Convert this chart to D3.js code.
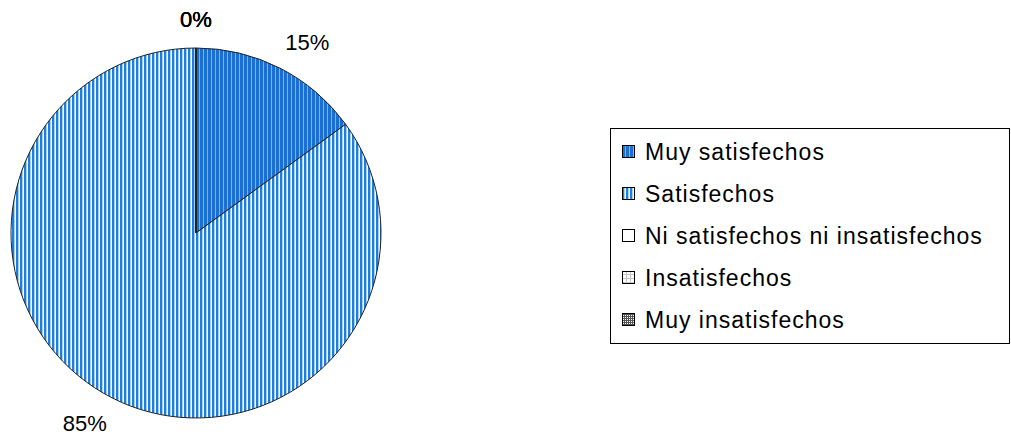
<!DOCTYPE html>
<html>
<head>
<meta charset="utf-8">
<script src="https://cdn.jsdelivr.net/npm/d3@7"></script>
<style>
  body { margin: 0; background: #fff; }
  text { font-family: "Liberation Sans", Arial, sans-serif; }
</style>
</head>
<body>
<div id="chart"></div>
<script>
// Data
const categories = [
  "Muy satisfechos",
  "Satisfechos",
  "Ni satisfechos ni insatisfechos",
  "Insatisfechos",
  "Muy insatisfechos",
];
const values = [15, 85, 0, 0, 0];
const labels = ["15%", "85%", "0%", "0%", "0%"];

const width = 1011;
const height = 438;

const svg = d3
  .select("#chart")
  .append("svg")
  .attr("width", width)
  .attr("height", height);

// Fill patterns, one per category
const defs = svg.append("defs");

function stripePattern(id, bg, lines) {
  const p = defs
    .append("pattern")
    .attr("id", id)
    .attr("patternUnits", "userSpaceOnUse")
    .attr("width", 4)
    .attr("height", 4);
  p.append("rect").attr("width", 4).attr("height", 4).attr("fill", bg);
  lines.forEach((l) => {
    p.append("rect")
      .attr("x", l.x)
      .attr("y", 0)
      .attr("width", l.w)
      .attr("height", 4)
      .attr("fill", l.c);
  });
}

stripePattern("pat0", "#1a6fd0", [{ x: 3, w: 1, c: "#7fb2ea" }]);
stripePattern("pat1", "#ffffff", [
  { x: 0, w: 2, c: "#1e7ee0" },
  { x: 2, w: 1, c: "#a9cdf3" },
]);

// plain white
defs
  .append("pattern")
  .attr("id", "pat2")
  .attr("patternUnits", "userSpaceOnUse")
  .attr("width", 4)
  .attr("height", 4)
  .append("rect")
  .attr("width", 4)
  .attr("height", 4)
  .attr("fill", "#fff");

// light grid and dense grid
function gridPattern(id, size, color) {
  const p = defs
    .append("pattern")
    .attr("id", id)
    .attr("patternUnits", "userSpaceOnUse")
    .attr("width", size)
    .attr("height", size);
  p.append("rect").attr("width", size).attr("height", size).attr("fill", "#fff");
  p.append("rect").attr("width", size).attr("height", 1).attr("fill", color);
  p.append("rect").attr("width", 1).attr("height", size).attr("fill", color);
}
gridPattern("pat3", 4, "#c8c8c8");
gridPattern("pat4", 2, "#555");

const fills = categories.map((c, i) => `url(#pat${i})`);

// Pie
const cx = 196;
const cy = 233;
const radius = 185;

const pie = d3.pie().sort(null).value((d) => d);
const arcs = pie(values);

const arc = d3.arc().innerRadius(0).outerRadius(radius);
const labelR = 205;

const g = svg.append("g").attr("transform", `translate(${cx},${cy})`);

g.selectAll(".slice")
  .data(arcs)
  .enter()
  .append("path")
  .attr("class", "slice")
  .attr("d", arc)
  .attr("fill", (d, i) => fills[i])
  .attr("stroke", "#222")
  .attr("stroke-width", 1);

// labels sit outside the rim, pushed out by half their box
g.selectAll(".label")
  .data(arcs)
  .enter()
  .append("text")
  .attr("class", "label")
  .attr("transform", (d) => {
    const a = (d.startAngle + d.endAngle) / 2;
    const x = Math.sin(a) * (labelR + 40);
    const y = -Math.cos(a) * (labelR + 9);
    return `translate(${x},${y})`;
  })
  .attr("text-anchor", "middle")
  .attr("dominant-baseline", "central")
  .attr("font-size", 22)
  .attr("fill", "#000")
  .text((d, i) => labels[i]);

// Legend
const legendX = 610;
const legendY = 128;
const legendW = 399;
const legendH = 215;

const legend = svg.append("g");
legend
  .append("rect")
  .attr("x", legendX + 0.5)
  .attr("y", legendY + 0.5)
  .attr("width", legendW)
  .attr("height", legendH)
  .attr("fill", "#fff")
  .attr("stroke", "#000")
  .attr("stroke-width", 1);

const rowY = d3
  .scalePoint()
  .domain(categories)
  .range([legendY + 24, legendY + 192]);

const items = legend
  .selectAll(".item")
  .data(categories)
  .enter()
  .append("g")
  .attr("class", "item")
  .attr("transform", (d) => `translate(${legendX + 12},${rowY(d)})`);

items
  .append("rect")
  .attr("x", 0.5)
  .attr("y", -6.5)
  .attr("width", 12)
  .attr("height", 12)
  .attr("fill", (d, i) => fills[i])
  .attr("stroke", "#000")
  .attr("stroke-width", 1);

items
  .append("text")
  .attr("x", 23)
  .attr("y", 0)
  .attr("dominant-baseline", "central")
  .attr("font-size", 23)
  .attr("letter-spacing", 1)
  .attr("fill", "#000")
  .text((d) => d);
</script>
</body>
</html>
